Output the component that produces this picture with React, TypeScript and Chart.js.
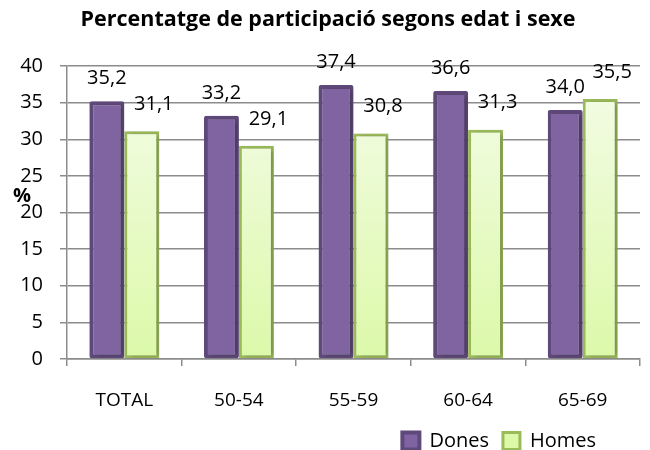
import React, { useEffect, useRef } from "react";
import { Chart, registerables } from "chart.js";

Chart.register(...registerables);

const titleText = "Percentatge de participació segons edat i sexe";
const categories = ["TOTAL", "50-54", "55-59", "60-64", "65-69"];
const donesValues = [35.2, 33.2, 37.4, 36.6, 34.0];
const homesValues = [31.1, 29.1, 30.8, 31.3, 35.5];
const seriesNames = ["Dones", "Homes"];
const yMin = 0;
const yMax = 40;
const yStep = 5;

const FONT = "'Open Sans', 'Noto Sans', sans-serif";

const fmt = (v: number) => v.toFixed(1).replace(".", ",");

const labelPlugin = {
  id: "valueLabels",
  afterDatasetsDraw(chart: any) {
    const ctx = chart.ctx;
    ctx.save();
    ctx.font = `20px ${FONT}`;
    ctx.fillStyle = "#000";
    ctx.textAlign = "center";
    ctx.textBaseline = "middle";
    chart.data.datasets.forEach((ds: any, di: number) => {
      const meta = chart.getDatasetMeta(di);
      meta.data.forEach((bar: any, i: number) => {
        const dx = di === 1 ? 12 : 0;
        const dy = di === 1 ? 27 : 23;
        ctx.fillText(fmt(ds.data[i]), bar.x + dx, bar.y - dy);
      });
    });
    // y-axis title "%"
    const ca = chart.chartArea;
    ctx.font = `bold 20px ${FONT}`;
    ctx.fillText("%", ca.left - 45, ca.top + 130);
    ctx.restore();
  },
};

const shadowPlugin = {
  id: "barShadow",
  beforeDatasetsDraw(chart: any) {
    const ctx = chart.ctx;
    ctx.save();
    ctx.shadowColor = "rgba(0,0,0,0.25)";
    ctx.shadowBlur = 5;
    ctx.shadowOffsetX = 3;
    ctx.shadowOffsetY = 1;
  },
  afterDatasetsDraw(chart: any) {
    chart.ctx.restore();
  },
};

const boxShift = {
  id: "boxShift",
  afterLayout(chart: any) {
    const l = chart.legend;
    if (l) {
      const dx = -30;
      const dy = 11;
      l.left += dx;
      l.right += dx;
      l.top += dy;
      l.bottom += dy;
    }
    const t = chart.titleBlock;
    if (t) {
      t.left += 8;
      t.right += 8;
    }
  },
};

export default function App() {
  const ref = useRef<HTMLCanvasElement>(null);

  useEffect(() => {
    if (!ref.current) return;
    const homesFill = (ctx: any) => {
      const chart = ctx.chart;
      const ca = chart.chartArea;
      if (!ca) return "#E8FAC8";
      const g = chart.ctx.createLinearGradient(0, ca.top, 0, ca.bottom);
      g.addColorStop(0, "#F4FCE9");
      g.addColorStop(1, "#DCF9A9");
      return g;
    };
    const chart = new Chart(ref.current, {
      type: "bar",
      data: {
        labels: categories,
        datasets: [
          {
            label: seriesNames[0],
            data: donesValues,
            backgroundColor: "#8064A2",
            borderColor: "#5F497A",
            borderWidth: 4,
            borderRadius: 2,
            borderSkipped: false,
            categoryPercentage: 0.61,
            barPercentage: 1,
          },
          {
            label: seriesNames[1],
            data: homesValues,
            backgroundColor: homesFill,
            borderColor: "#9BBB59",
            borderWidth: 3,
            borderSkipped: false,
            categoryPercentage: 0.61,
            barPercentage: 1,
          },
        ],
      },
      options: {
        responsive: false,
        animation: false,
        devicePixelRatio: 1,
        layout: { padding: { left: 0, right: 10, top: 0, bottom: 0 } },
        plugins: {
          title: {
            display: true,
            text: titleText,
            color: "#000",
            font: { family: FONT, size: 21.5, weight: "bold", lineHeight: 1.2 },
            padding: { top: 7, bottom: 33.2 },
          },
          legend: {
            display: true,
            position: "bottom",
            align: "end",
            labels: {
              color: "#000",
              font: { family: FONT, size: 20 },
              boxWidth: 17,
              boxHeight: 17,
              padding: 14,
            },
          },
          tooltip: { enabled: false },
        },
        scales: {
          x: {
            grid: {
              display: true,
              drawOnChartArea: false,
              drawTicks: true,
              tickLength: 7,
              color: "#8C8C8C",
              lineWidth: 1.5,
            },
            border: { display: true, color: "#8C8C8C", width: 1.5 },
            ticks: {
              color: "#000",
              font: { family: FONT, size: 19 },
              padding: 23,
            },
            afterFit(scale: any) {
              const lh = scale.chart.legend ? scale.chart.legend.height : 0;
              scale.height = 450 - lh - 359;
            },
          },
          y: {
            min: yMin,
            max: yMax,
            ticks: {
              stepSize: yStep,
              color: "#000",
              font: { family: FONT, size: 20 },
              padding: 17,
            },
            grid: {
              color: "#8C8C8C",
              lineWidth: 1.5,
              tickLength: 7,
            },
            border: { display: true, color: "#8C8C8C", width: 1.5 },
            afterFit(scale: any) {
              scale.width = 67;
            },
          },
        },
      },
      plugins: [shadowPlugin, labelPlugin, boxShift],
    } as any);
    return () => chart.destroy();
  }, []);

  return (
    <div style={{ position: "absolute", left: 0, top: 0, width: 650, height: 450, background: "#fff" }}>
      <canvas ref={ref} width={650} height={450} />
    </div>
  );
}
